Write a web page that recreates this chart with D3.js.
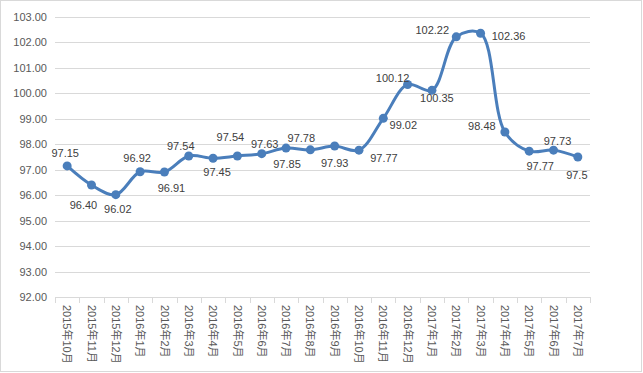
<!DOCTYPE html>
<html lang="zh">
<head>
  <meta charset="UTF-8">
  <script src="https://d3js.org/d3.v7.min.js"></script>
  <title>Index</title>
  <style>
    body { margin: 0; background: #fff; overflow: hidden; }
    text { font-family: "Liberation Sans", Arial, "Noto Sans CJK SC", sans-serif; }
  </style>
</head>
<body>
<script>
  // Months shown on the x axis
  const months = [
    "2015年10月", "2015年11月", "2015年12月", "2016年1月", "2016年2月", "2016年3月",
    "2016年4月", "2016年5月", "2016年6月", "2016年7月", "2016年8月", "2016年9月",
    "2016年10月", "2016年11月", "2016年12月", "2017年1月", "2017年2月", "2017年3月",
    "2017年4月", "2017年5月", "2017年6月", "2017年7月"
  ];

  // Index values
  const values = [
    97.15, 96.40, 96.02, 96.92, 96.91, 97.54, 97.45, 97.54, 97.63, 97.85, 97.78,
    97.93, 97.77, 99.02, 100.35, 100.12, 102.22, 102.36, 98.48, 97.73, 97.77, 97.5
  ];

  // Data label texts as printed on the chart
  const labels = [
    "97.15", "96.40", "96.02", "96.92", "96.91", "97.54", "97.45", "97.54", "97.63", "97.85", "97.78",
    "97.93", "97.77", "99.02", "100.12", "100.35", "102.22", "102.36", "98.48", "97.77", "97.73", "97.5"
  ];

  // Y axis ticks
  const yTicks = [92, 93, 94, 95, 96, 97, 98, 99, 100, 101, 102, 103];

  const width = 643, height = 373;
  const margin = { top: 17, right: 53, bottom: 76, left: 55 };

  // label placement relative to each point [dx, dy]
  const labelOffsets = [
    [-2, -13], [-8, 20], [2, 14], [-3, -14], [7, 16], [-8, -10], [4, 14], [-7, -19],
    [3, -10], [1, 16], [-9, -12], [0, 17], [25, 8], [20, 7], [-15, -6], [5, 8],
    [-24, -7], [28, 3], [-23, -6], [11, 15], [4, -9], [-1, 18]
  ];

  const svg = d3.select("body").append("svg")
    .attr("width", width)
    .attr("height", height);

  // outer chart border
  svg.append("rect")
    .attr("x", 0.5).attr("y", 0.5)
    .attr("width", width - 2).attr("height", height - 2)
    .attr("fill", "#fff")
    .attr("stroke", "#d9d9d9");

  const x = d3.scaleBand()
    .domain(months)
    .range([margin.left, width - margin.right]);

  const y = d3.scaleLinear()
    .domain([92, 103])
    .range([height - margin.bottom, margin.top]);

  // gridlines + y labels
  const yAxis = svg.append("g")
    .attr("transform", `translate(${margin.left},0)`)
    .call(d3.axisLeft(y).tickValues(yTicks).tickFormat(d3.format(".2f"))
      .tickSize(-(width - margin.left - margin.right)).tickPadding(8));
  yAxis.select(".domain").remove();
  yAxis.selectAll(".tick line").attr("stroke", "#d9d9d9").attr("shape-rendering", "crispEdges");
  yAxis.selectAll(".tick text")
    .attr("fill", "#595959")
    .style("font-size", "11px");

  // x axis
  const xAxis = svg.append("g")
    .attr("transform", `translate(0,${height - margin.bottom})`)
    .call(d3.axisBottom(x).tickSize(0).tickPadding(0));
  xAxis.select(".domain").attr("stroke", "#d9d9d9").attr("shape-rendering", "crispEdges");
  xAxis.selectAll(".tick text")
    .attr("fill", "#595959")
    .style("font-size", "11px")
    .attr("text-anchor", "start")
    .attr("dy", "0.35em")
    .attr("transform", "translate(0,8) rotate(90)");

  // band edge tick marks
  const edges = months.map(m => x(m)).concat([x(months[months.length - 1]) + x.bandwidth()]);
  svg.append("g")
    .selectAll("line")
    .data(edges)
    .enter().append("line")
    .attr("x1", d => Math.round(d) + 0.5)
    .attr("x2", d => Math.round(d) + 0.5)
    .attr("y1", height - margin.bottom)
    .attr("y2", height - margin.bottom + 6)
    .attr("stroke", "#d9d9d9");

  const cx = (d, i) => x(months[i]) + x.bandwidth() / 2;

  const line = d3.line()
    .x((d, i) => cx(d, i))
    .y(d => y(d))
    .curve(d3.curveCatmullRom.alpha(0.5));

  svg.append("path")
    .datum(values)
    .attr("fill", "none")
    .attr("stroke", "#4a7ebb")
    .attr("stroke-width", 3)
    .attr("stroke-linejoin", "round")
    .attr("d", line);

  svg.append("g")
    .selectAll("circle")
    .data(values)
    .enter().append("circle")
    .attr("cx", (d, i) => cx(d, i))
    .attr("cy", d => y(d))
    .attr("r", 4.5)
    .attr("fill", "#4a7ebb");

  // data labels
  svg.append("g")
    .selectAll("text")
    .data(values)
    .enter().append("text")
    .attr("x", (d, i) => cx(d, i) + labelOffsets[i][0])
    .attr("y", (d, i) => y(d) + labelOffsets[i][1])
    .attr("dy", "0.35em")
    .attr("text-anchor", "middle")
    .attr("fill", "#404040")
    .style("font-size", "11px")
    .text((d, i) => labels[i]);
</script>
</body>
</html>
